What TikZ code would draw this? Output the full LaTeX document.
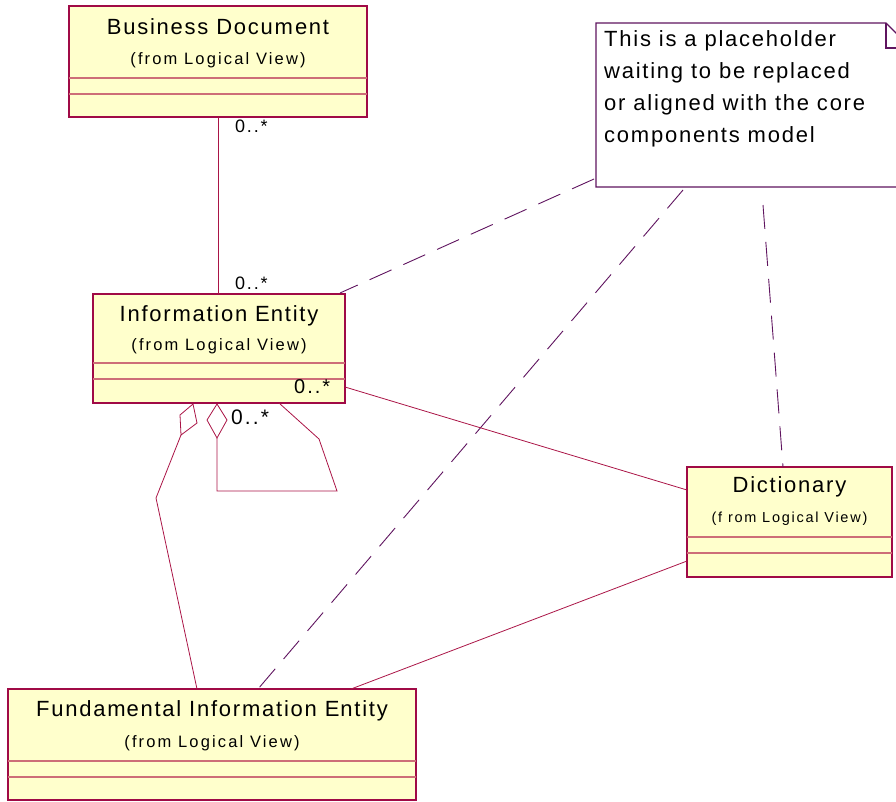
\documentclass[tikz,border=0pt]{standalone}
\usepackage{fontspec}
\setmainfont{Liberation Sans}
\newfontfamily\titlefont[LetterSpace=8]{Liberation Sans}
\newfontfamily\subfont[LetterSpace=13]{Liberation Sans}
\newfontfamily\subfontb[LetterSpace=12]{Liberation Sans}
\newfontfamily\notefont[LetterSpace=8]{Liberation Sans}
\newfontfamily\multfont[LetterSpace=10]{Liberation Sans}
\definecolor{clsborder}{RGB}{160,10,70}
\definecolor{clsfill}{RGB}{255,255,204}
\definecolor{clscomp}{RGB}{205,110,120}
\definecolor{notecol}{RGB}{95,20,95}
\definecolor{linkcol}{RGB}{170,20,70}
\begin{document}
\begin{tikzpicture}[x=1pt,y=-1pt,
  classbox/.style={draw=clsborder,fill=clsfill,line width=1.2pt,inner sep=0pt,outer sep=0pt,anchor=north west,rectangle},
  comp/.style={draw=clscomp,line width=1.2pt},
  ctitle/.style={font=\titlefont\fontsize{22}{24}\selectfont,inner sep=0pt},
  csub/.style={font=\subfont\fontsize{16.5}{18}\selectfont,inner sep=0pt},
  mult/.style={font=\multfont\fontsize{18}{20}\selectfont,inner sep=0pt,anchor=west},
  assoc/.style={draw=linkcol,line width=0.8pt},
  anchorlink/.style={draw=notecol,line width=0.9pt,dash pattern=on 24pt off 13pt},
  notetext/.style={font=\notefont\fontsize{22}{32}\selectfont,inner sep=0pt,anchor=north west,align=left}]
\useasboundingbox (0,0) rectangle (896,801);
\clip (0,0) rectangle (896,801);

% ---------- classes ----------
\node[classbox,minimum width=298pt,minimum height=111pt] (bd) at (69,6) {};
\node[classbox,minimum width=252pt,minimum height=109pt] (ie) at (93,294) {};
\node[classbox,minimum width=205pt,minimum height=110pt] (dict) at (687,467) {};
\node[classbox,minimum width=408pt,minimum height=111pt] (fie) at (8,689) {};

% compartment separators
\foreach \c/\a/\b in {bd/72/88, ie/69/85, dict/70/86, fie/72/88}{
  \draw[comp] ([yshift=-\a pt]\c.north west) -- ([yshift=-\a pt]\c.north east);
  \draw[comp] ([yshift=-\b pt]\c.north west) -- ([yshift=-\b pt]\c.north east);
}

% class names
\node[ctitle] (bdt) at ([yshift=-21pt]bd.north) {Business Docum\kern2pt ent};
\node[csub] (bds) at ([yshift=-54pt]bd.north) {(from Logical View)};
\node[ctitle] (iet) at ([yshift=-22pt]ie.north) {Information E\kern1pt ntity};
\node[csub] (ies) at ([yshift=-52pt]ie.north) {(from Logical View)};
\node[ctitle] (dictt) at ([yshift=-20pt]dict.north) {Dictionary};
\node[csub,font=\subfontb\fontsize{14.5}{16}\selectfont] (dicts) at ([yshift=-52pt]dict.north) {(f rom Logical View)};
\node[ctitle] (fiet) at ([yshift=-22pt]fie.north) {Fundam\kern1pt ental Information E\kern1pt ntity};
\node[csub] (fies) at ([yshift=-54pt]fie.north) {(from Logical View)};

% ---------- note ----------
\coordinate (nA) at (596,23);
\coordinate (nB) at (886,23);
\coordinate (nC) at (911,48);
\coordinate (nD) at (911,187);
\coordinate (nE) at (596,187);
\draw[notecol,line width=1.1pt,fill=white] (nA) -- (nB) -- (nC) -- (nD) -- (nE) -- cycle;
\draw[notecol,line width=1.1pt] (nB) -- (886,48) -- (nC);
\node[notetext] (note) at (604,30) {This is a placeholder\\waiting to be replaced\\or aligned with the core\\components model};

% note anchors
\coordinate (a1) at (594,179);
\coordinate (a2) at (683,190);
\coordinate (a3) at (763,205);
\draw[anchorlink] (a1) -- (340,293);
\draw[anchorlink] (a2) -- (258,689);
\draw[anchorlink] (a3) -- (783,467);

% ---------- associations ----------
\draw[assoc] (bd.south -| 218,0) -- (ie.north -| 218,0);
\draw[assoc] (ie.east |- 0,387) -- (dict.west |- 0,490);
\draw[assoc] (dict.west |- 0,561) -- (fie.north -| 351,0);

% aggregation Information Entity -> Fundamental Information Entity
\coordinate (d1t) at (193,404);
\draw[assoc,fill=white] (d1t) -- (197,423) -- (181,435) -- (180,415) -- cycle;
\draw[assoc] (181,435) -- (156,498) -- (fie.north -| 197,0);

% self aggregation on Information Entity
\coordinate (d2t) at (217,404);
\draw[assoc,fill=white] (d2t) -- (227,420) -- (217,438) -- (207,420) -- cycle;
\draw[assoc] (217,438) -- (217,491) -- (337,491) -- (319,439) -- (ie.south -| 279,0);

% multiplicities
\node[mult] (m1) at (235,126) {0..*};
\node[mult] (m2) at (235,283) {0..*};
\node[mult,font=\multfont\fontsize{20}{22}\selectfont] (m3) at (294,387) {0..*};
\node[mult,font=\multfont\fontsize{21}{22}\selectfont] (m4) at (231,417) {0..*};
\end{tikzpicture}
\end{document}
